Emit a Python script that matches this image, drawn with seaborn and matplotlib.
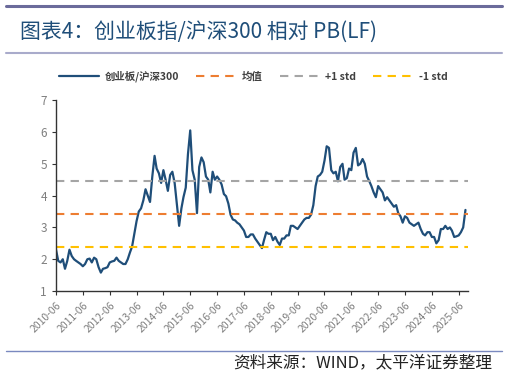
import pandas as pd
import numpy as np
import matplotlib
matplotlib.use("Agg")
import matplotlib.pyplot as plt
import matplotlib.dates as mdates
from matplotlib.lines import Line2D
import seaborn as sns

# --- Datos (lectura mensual aproximada desde el gráfico) ---
start_month = "2010-06-01"
rel_pb = [
    2.30, 1.95, 1.90, 2.00, 1.70, 1.95, 2.30, 2.10, 2.00, 1.95, 1.90, 1.85,
    1.78, 1.85, 2.00, 2.02, 1.90, 2.05, 2.00, 1.75, 1.58, 1.70, 1.72, 1.75,
    1.90, 1.93, 1.95, 2.05, 1.95, 1.90, 1.85, 1.85, 2.00, 2.20, 2.40, 2.80,
    3.20, 3.50, 3.60, 3.85, 4.20, 4.00, 3.80, 4.60, 5.25, 4.85, 4.70, 4.40,
    4.80, 4.50, 4.15, 4.65, 4.75, 4.40, 3.75, 3.05, 3.60, 3.95, 4.25, 5.30,
    6.05, 4.80, 4.50, 3.45, 4.90, 5.20, 5.05, 4.60, 4.50, 4.10, 4.75, 4.50,
    4.60, 4.50, 4.35, 4.05, 3.98, 3.75, 3.40, 3.25, 3.22, 3.15, 3.10, 3.00,
    2.90, 2.70, 2.70, 2.78, 2.78, 2.65, 2.55, 2.45, 2.35, 2.60, 2.85, 2.80,
    2.80, 2.60, 2.70, 2.55, 2.45, 2.65, 2.65, 2.75, 2.75, 3.05, 3.05, 3.00,
    2.95, 3.05, 3.15, 3.25, 3.30, 3.30, 3.40, 3.70, 4.30, 4.60, 4.65, 4.75,
    5.10, 5.55, 5.50, 4.80, 4.70, 4.75, 4.45, 4.90, 5.00, 4.50, 4.55, 4.85,
    4.80, 5.35, 5.50, 4.95, 5.00, 5.15, 5.00, 4.60, 4.45, 4.30, 4.10, 3.95,
    4.30, 4.20, 4.10, 3.85, 3.95, 3.85, 3.75, 3.65, 3.70, 3.45, 3.35, 3.15,
    3.35, 3.30, 3.15, 3.10, 3.05, 3.10, 3.15, 2.95, 2.80, 2.75, 2.85, 2.85,
    2.70, 2.70, 2.50, 2.60, 2.95, 2.95, 3.05, 2.95, 3.00, 2.90, 2.70, 2.72,
    2.75, 2.85, 3.00, 3.55,
]
mean_val = 3.42
plus_std = 4.47
minus_std = 2.37
tick_years = list(range(2010, 2026))

df = pd.DataFrame({
    "fecha": pd.date_range(start_month, periods=len(rel_pb), freq="MS"),
    "pb": rel_pb,
})

sns.set_style("ticks")
plt.rcParams["font.family"] = ["Noto Sans CJK SC", "DejaVu Sans"]
plt.rcParams["axes.unicode_minus"] = False

fig = plt.figure(figsize=(5.07, 3.78), dpi=100)
ax = fig.add_axes([0.1105, 0.230, 0.8125, 0.505])

sns.lineplot(data=df, x="fecha", y="pb", ax=ax, color="#1F4E79", linewidth=1.6)
dash = (0, (4, 3))
ax.axhline(mean_val, color="#ED7D31", linewidth=1.5, linestyle=dash)
ax.axhline(plus_std, color="#A5A5A5", linewidth=1.5, linestyle=dash)
ax.axhline(minus_std, color="#FFC000", linewidth=1.5, linestyle=dash)

ax.set_ylim(1, 7)
ax.set_yticks(range(1, 8))
ax.set_xlim(pd.Timestamp("2010-06-01"), pd.Timestamp("2025-10-05"))
ticks = [pd.Timestamp(f"{y}-06-01") for y in tick_years]
ax.set_xticks(ticks)
ax.set_xticklabels([f"{y}-06" for y in tick_years], rotation=45, ha="right",
                   rotation_mode="anchor", fontsize=7.5, color="#7F7F7F")
ax.tick_params(axis="y", labelsize=8.5, length=3, width=0.8, colors="#333333")
ax.tick_params(axis="y", labelcolor="#7F7F7F")
ax.tick_params(axis="x", length=3, width=0.8, colors="#333333")
ax.tick_params(axis="x", labelcolor="#7F7F7F")
ax.set_xlabel("")
ax.set_ylabel("")
for s in ["top", "right"]:
    ax.spines[s].set_visible(False)
for s in ["left", "bottom"]:
    ax.spines[s].set_color("#333333")
    ax.spines[s].set_linewidth(1.0)

# --- Leyenda ---
handles = [
    Line2D([], [], color="#1F4E79", linewidth=1.6),
    Line2D([], [], color="#ED7D31", linewidth=1.5, linestyle=dash),
    Line2D([], [], color="#A5A5A5", linewidth=1.5, linestyle=dash),
    Line2D([], [], color="#FFC000", linewidth=1.5, linestyle=dash),
]
labels = ["创业板/沪深300", "均值", "+1 std", "-1 std"]
fig.legend(handles, labels, loc="center", bbox_to_anchor=(0.50, 0.797), ncol=4,
           frameon=False, handlelength=3.8, columnspacing=1.6,
           handletextpad=0.6, labelcolor="#404040",
           prop={"family": ["Noto Sans CJK SC", "DejaVu Sans"], "weight": "bold", "size": 7.5})

# --- Título y decoración ---
fig.add_artist(Line2D([6 / 507, 502 / 507], [1 - 6 / 378, 1 - 6 / 378],
                      color="#6B6B9B", linewidth=2.2, transform=fig.transFigure))
fig.text(20 / 507, 1 - 32 / 378, "图表4：创业板指/沪深300 相对 PB(LF)", fontsize=15,
         color="#1F4E79", va="center", ha="left")
fig.add_artist(Line2D([6 / 507, 502 / 507], [1 - 53 / 378, 1 - 53 / 378],
                      color="#A9ABCB", linewidth=1.5, transform=fig.transFigure))
fig.add_artist(Line2D([6 / 507, 502 / 507], [1 - 351 / 378, 1 - 351 / 378],
                      color="#7A89BF", linewidth=1.0, transform=fig.transFigure))
fig.text(492 / 507, 1 - 363 / 378, "资料来源：WIND，太平洋证券整理", fontsize=12,
         color="#222222", va="center", ha="right", style="italic")

fig.savefig("out.png", dpi=100)
